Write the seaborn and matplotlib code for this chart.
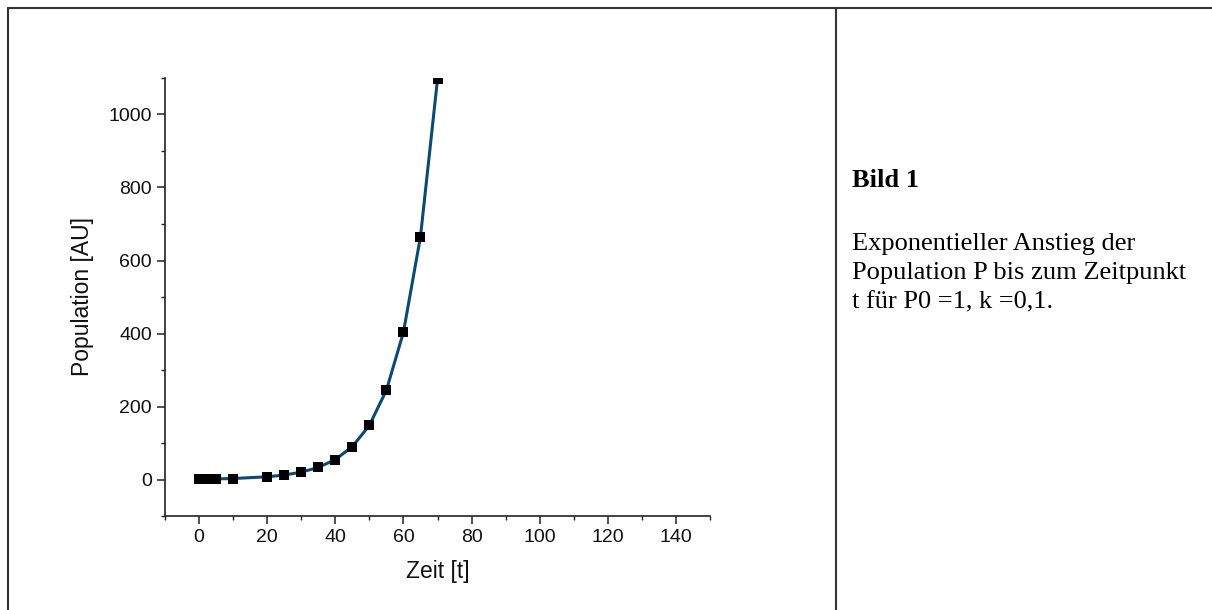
import matplotlib
matplotlib.use("Agg")
import matplotlib.pyplot as plt
from matplotlib.lines import Line2D
from matplotlib.ticker import MultipleLocator
import pandas as pd
import seaborn as sns

# Population over time (P0 = 1, k = 0.1)
zeit = [0, 2, 5, 10, 20, 25, 30, 35, 40, 45, 50, 55, 60, 65, 70]
population = [1.0, 1.2, 1.6, 2.7, 7.4, 12.2, 20.1, 33.1, 54.6, 90.0,
              148.4, 244.7, 403.4, 665.1, 1096.6]

x_ticks = [0, 20, 40, 60, 80, 100, 120, 140]
y_ticks = [0, 200, 400, 600, 800, 1000]

caption_title = "Bild 1"
caption_lines = ["Exponentieller Anstieg der",
                 "Population P bis zum Zeitpunkt",
                 "t für P0 =1, k =0,1."]

df = pd.DataFrame({"Zeit": zeit, "Population": population})

sns.set_theme(style="ticks")
plt.rcParams["font.family"] = ["Liberation Sans", "DejaVu Sans"]

fig = plt.figure(figsize=(12.12, 6.10), dpi=100)
fig.patch.set_facecolor("white")
ax = fig.add_axes([165 / 1212, 94 / 610, 545 / 1212, 438 / 610])

sns.lineplot(data=df, x="Zeit", y="Population", ax=ax, color="#0b4a73",
             linewidth=2.2, zorder=2)
sns.scatterplot(data=df, x="Zeit", y="Population", ax=ax, marker="s",
                color="black", s=60, edgecolor="black", linewidth=0, zorder=3)

ax.set_xlim(-10, 150)
ax.set_ylim(-100, 1100)
ax.set_xticks(x_ticks)
ax.set_yticks(y_ticks)
ax.xaxis.set_minor_locator(MultipleLocator(10))
ax.yaxis.set_minor_locator(MultipleLocator(100))
ax.tick_params(which="major", direction="out", length=5.5, width=1.1,
               labelsize=14, color="#222222", labelcolor="#111111", pad=4)
ax.tick_params(which="minor", direction="out", length=3, width=1.0,
               color="#222222")
for side in ("top", "right"):
    ax.spines[side].set_visible(False)
for side in ("left", "bottom"):
    ax.spines[side].set_linewidth(1.2)
    ax.spines[side].set_color("#222222")

ax.set_xlabel("Zeit [t]", fontsize=16.5, color="#111111", labelpad=10)
ax.set_ylabel("Population [AU]", fontsize=16.5, color="#111111", labelpad=10)

# Table frame around plot and caption cells
frame_kw = dict(color="#333333", linewidth=1.5, transform=fig.transFigure)
fig.add_artist(Line2D([7.5 / 1212, 1.0], [1 - 7.5 / 610, 1 - 7.5 / 610], **frame_kw))
fig.add_artist(Line2D([7.5 / 1212, 7.5 / 1212], [0, 1 - 7.5 / 610], **frame_kw))
fig.add_artist(Line2D([836 / 1212, 836 / 1212], [0, 1 - 7.5 / 610], **frame_kw))

serif = ["Liberation Serif", "DejaVu Serif"]
fig.text(852 / 1212, 1 - 187 / 610, caption_title, fontsize=19,
         fontweight="bold", family=serif, va="baseline", ha="left",
         color="black")
for i, line in enumerate(caption_lines):
    fig.text(852 / 1212, 1 - (250 + 29 * i) / 610, line, fontsize=19,
             family=serif, va="baseline", ha="left", color="black")

fig.savefig("out.png", dpi=100, facecolor="white")
